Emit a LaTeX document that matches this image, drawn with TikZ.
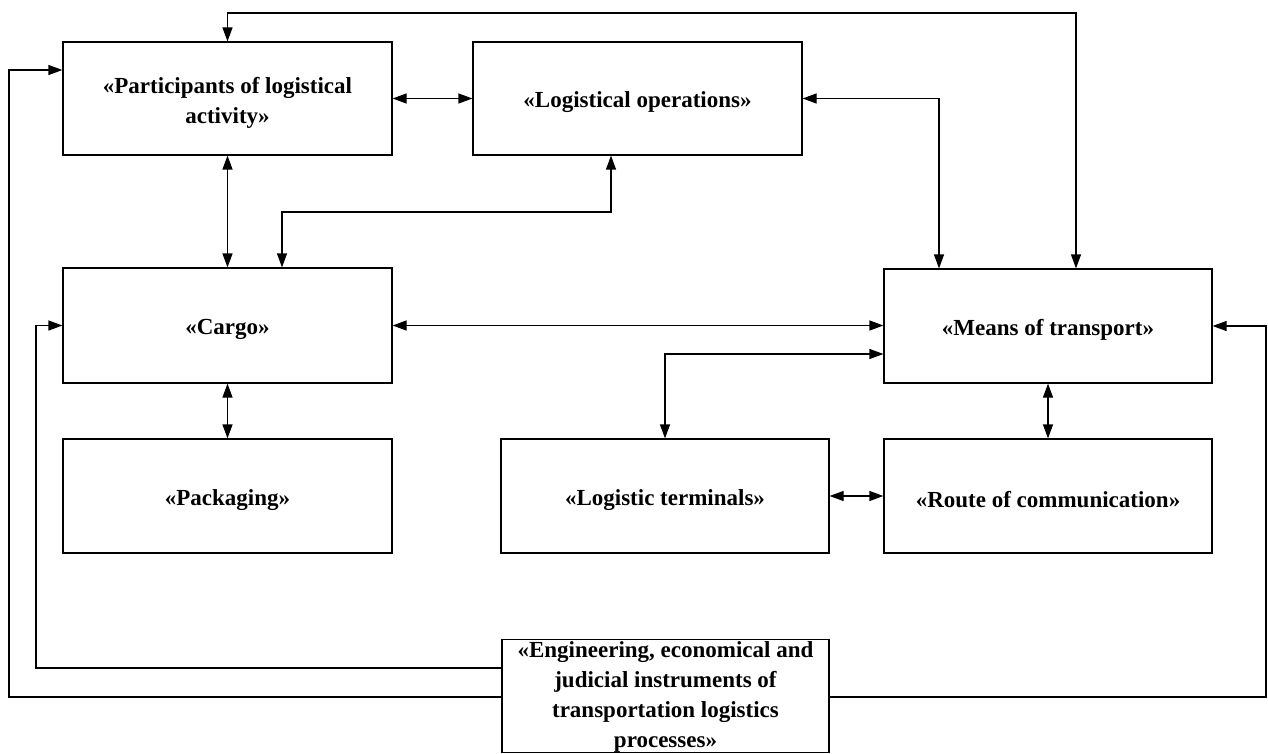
\documentclass[tikz,border=0pt]{standalone}
\usepackage{fontspec}
\setmainfont{Liberation Serif}
\usetikzlibrary{arrows.meta}
\begin{document}
\begin{tikzpicture}[x=1pt,y=-1pt,
  box/.style={draw=black,line width=1.2pt,rectangle,inner sep=0pt},
  txt/.style={inner sep=0pt,align=center,yshift=-4pt,
    font=\fontsize{23}{30}\selectfont\bfseries},
  conn/.style={draw=black,line width=1.2pt},
  both/.style={conn,{Triangle[length=14pt,width=10pt]}-{Triangle[length=14pt,width=10pt]}},
  one/.style={conn,-{Triangle[length=14pt,width=10pt]}}]
\useasboundingbox (0,0) rectangle (1268,754);
\node[box,minimum width=329pt,minimum height=113pt] (P) at (227.5,98.5) {};
\node[box,minimum width=329pt,minimum height=113pt] (L) at (637.5,98.5) {};
\node[box,minimum width=329pt,minimum height=115pt] (C) at (227.5,325.5) {};
\node[box,minimum width=328pt,minimum height=114pt] (M) at (1048,326) {};
\node[box,minimum width=329pt,minimum height=114pt] (K) at (227.5,496) {};
\node[box,minimum width=328pt,minimum height=114pt] (T) at (665,496) {};
\node[box,minimum width=328pt,minimum height=114pt] (R) at (1048,496) {};
\node[box,minimum width=327pt,minimum height=113pt] (E) at (665.5,696) {};
\node[txt] (Pt) at (P) {«Participants of logistical\\activity»};
\node[txt] (Lt) at (L) {«Logistical operations»};
\node[txt] (Ct) at (C) {«Cargo»};
\node[txt] (Mt) at (M) {«Means of transport»};
\node[txt] (Kt) at (K) {«Packaging»};
\node[txt] (Tt) at (T) {«Logistic terminals»};
\node[txt] (Rt) at (R) {«Route of communication»};
\node[txt,yshift=3pt] (Et) at (E) {«Engineering, economical and\\judicial instruments of\\transportation logistics\\processes»};
\coordinate (t1) at (1076,13);
\coordinate (a1) at (611,212);
\coordinate (a2) at (282,212);
\coordinate (b1) at (939,98.5);
\coordinate (c1) at (665,354);
\coordinate (d1) at (36,668);
\coordinate (e1) at (9,697);
\coordinate (f1) at (1266,697);
% connectors
\draw[both] (P.east) -- (L.west);
\draw[both] (P.north) |- (t1) -- (t1 |- M.north);
\draw[both] (P.south) -- (C.north);
\draw[both] (a1 |- L.south) -- (a1) -- (a2) -- (a2 |- C.north);
\draw[both] (L.east) -- (b1) -- (b1 |- M.north);
\draw[both] (C.east) -- (C.east -| M.west);
\draw[both] (c1 -| M.west) -- (c1) -- (T.north);
\draw[both] (C.south) -- (K.north);
\draw[both] (M.south) -- (R.north);
\draw[both] (T.east) -- (R.west);
\draw[one] (d1 -| E.west) -- (d1) |- (C.west);
\draw[one] (e1 -| E.west) -- (e1) |- ([yshift=28.5pt]P.west);
\draw[one] (f1 -| E.east) -- (f1) |- (M.east);
\end{tikzpicture}
\end{document}
